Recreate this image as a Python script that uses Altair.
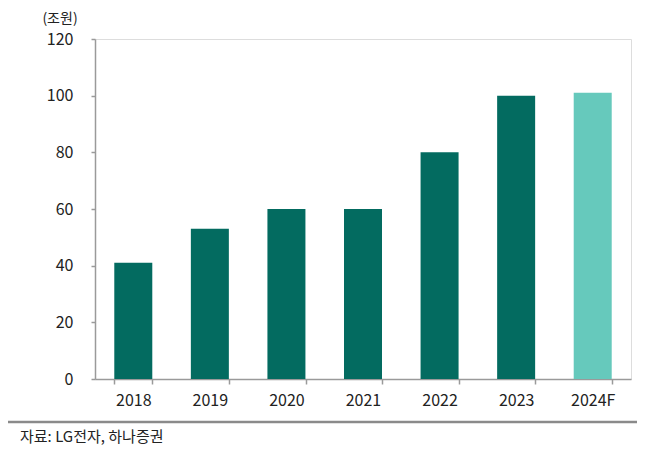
import altair as alt
import pandas as pd

years = ["2018", "2019", "2020", "2021", "2022", "2023", "2024F"]
values = [41, 53, 60, 60, 80, 100, 101]
kinds = ["실적", "실적", "실적", "실적", "실적", "실적", "전망"]

df = pd.DataFrame({"year": years, "value": values, "kind": kinds})

FONT = "Noto Sans CJK KR"

bars = alt.Chart(df).mark_bar(size=38).encode(
    x=alt.X("year:N", sort=years, title=None,
            scale=alt.Scale(paddingInner=0.5, paddingOuter=0.25),
            axis=alt.Axis(labelAngle=0, tickBand="extent", tickSize=5,
                          labelPadding=8, labelFontSize=16, labelColor="#222",
                          labelFont=FONT, domainColor="#9a9a9a", tickColor="#9a9a9a",
                          domainWidth=1.5, tickWidth=1.5)),
    y=alt.Y("value:Q", title=None,
            scale=alt.Scale(domain=[0, 120]),
            axis=alt.Axis(values=[0, 20, 40, 60, 80, 100, 120], grid=False,
                          tickSize=4, labelPadding=18, labelFontSize=16,
                          labelColor="#222", labelFont=FONT,
                          domainColor="#9a9a9a", tickColor="#9a9a9a",
                          domainWidth=1.5, tickWidth=1.5)),
    color=alt.Color("kind:N", legend=None,
                    scale=alt.Scale(domain=["실적", "전망"], range=["#036b60", "#66c9bc"])),
)

unit = alt.Chart(pd.DataFrame({"t": ["(조원)"]})).mark_text(
    font=FONT, fontSize=14, color="#222", align="center", baseline="middle"
).encode(x=alt.value(-35), y=alt.value(-20), text="t:N")

footer_line = alt.Chart(pd.DataFrame({"a": [0]})).mark_rule(
    color="#8a8a8a", strokeWidth=2.5
).encode(x=alt.value(-87), x2=alt.value(560), y=alt.value(43 + 340))

source = alt.Chart(pd.DataFrame({"t": ["자료: LG전자, 하나증권"]})).mark_text(
    font=FONT, fontSize=15, color="#222", align="left", baseline="middle"
).encode(x=alt.value(-75), y=alt.value(398), text="t:N")

chart = alt.layer(bars, unit, footer_line, source).properties(
    width=536, height=340,
    autosize=alt.AutoSizeParams(type="none"),
    padding={"left": 87, "top": 31, "right": 6, "bottom": 70},
).configure_view(stroke=None).configure(background="white")

chart.save("out.html", embed_options={"renderer": "svg", "actions": False})
